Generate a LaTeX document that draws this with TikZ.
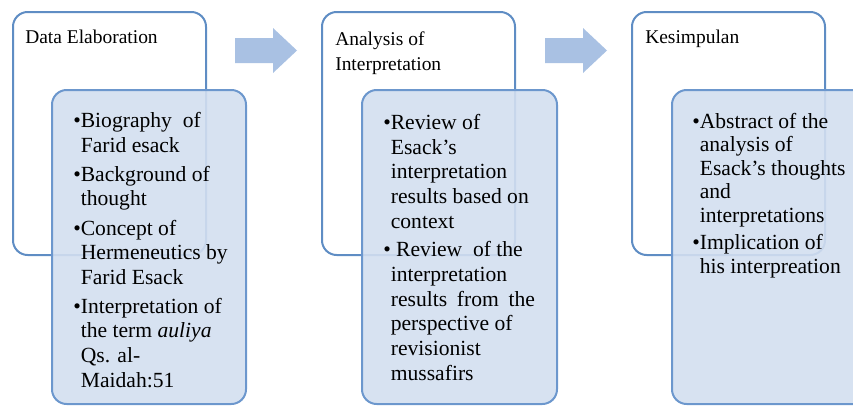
\documentclass[tikz,border=0pt]{standalone}
\usepackage{fontspec}
\setmainfont{Liberation Serif}
\definecolor{outerline}{HTML}{5F8DC4}
\definecolor{innerfill}{HTML}{D3DFF0}
\definecolor{innerline}{HTML}{6C97CD}
\definecolor{arrowfill}{HTML}{A9C1E3}
\newcommand{\bl}{\textbullet}
\newcommand{\ct}{\phantom{\textbullet}}
\begin{document}
\begin{tikzpicture}[x=0.75pt,y=-0.75pt,
  outerbox/.style={draw=outerline,line width=1.5pt,fill=white,rounded corners=11pt},
  innerbox/.style={draw=innerline,line width=1.5pt,fill=innerfill,fill opacity=0.9,rounded corners=11pt},
  flowarrow/.style={fill=arrowfill,draw=none},
  titletext/.style={anchor=base west,inner sep=0pt,align=left,font={\fontsize{14.6}{18.75}\selectfont}},
  itemtext/.style={anchor=base west,inner sep=0pt,align=left,font={\fontsize{16.2}{18.5}\selectfont}}]
\useasboundingbox (0,0) rectangle (853,407);
\clip (0,0) rectangle (853,407);
% box 1
\draw[outerbox] (13,12) rectangle (206,255);
\node[titletext] (t1) at (25,43) {Data Elaboration};
\draw[innerbox] (52,90) rectangle (246,404);
\node[itemtext] (i1) at (73,387) {\bl Biography\hspace{0.25em} of\\
\ct Farid esack\\[3pt]
\bl Background of\\
\ct thought\\[3.5pt]
\bl Concept of\\
\ct Hermeneutics by\\
\ct Farid Esack\\[3pt]
\bl Interpretation of\\
\ct the term \textit{auliya}\\
\ct Qs. al-\\
\ct Maidah:51};
% arrow 1
\fill[flowarrow] (235,38) -- (273,38) -- (273,28) -- (297,50.5) -- (273,73) -- (273,63) -- (235,63) -- cycle;
% box 2
\draw[outerbox] (322,12) rectangle (515,255);
\node[titletext] (t2) at (335,70) {Analysis of\\Interpretation};
\draw[innerbox] (362,90) rectangle (557,404);
\node[itemtext] (i2) at (383,380) {\bl Review of\\
\ct Esack's\\
\ct interpretation\\
\ct results based on\\
\ct context\\[3pt]
\bl\ Review\hspace{0.25em} of the\\
\ct interpretation\\
\ct results\hspace{0.2em} from\hspace{0.2em} the\\
\ct perspective of\\
\ct revisionist\\
\ct mussafirs};
% arrow 2
\fill[flowarrow] (545,38) -- (583,38) -- (583,28) -- (607,50.5) -- (583,73) -- (583,63) -- (545,63) -- cycle;
% box 3
\draw[outerbox] (632,12) rectangle (825,255);
\node[titletext] (t3) at (645,43) {Kesimpulan};
\draw[innerbox] (672,90) rectangle (872,404);
\node[itemtext,font={\fontsize{16.2}{17.6}\selectfont}] (i3) at (692,273) {\bl Abstract of the\\
\ct analysis of\\
\ct Esack's thoughts\\
\ct and\\
\ct interpretations\\[3pt]
\bl Implication of\\
\ct his interpreation};
\end{tikzpicture}
\end{document}
